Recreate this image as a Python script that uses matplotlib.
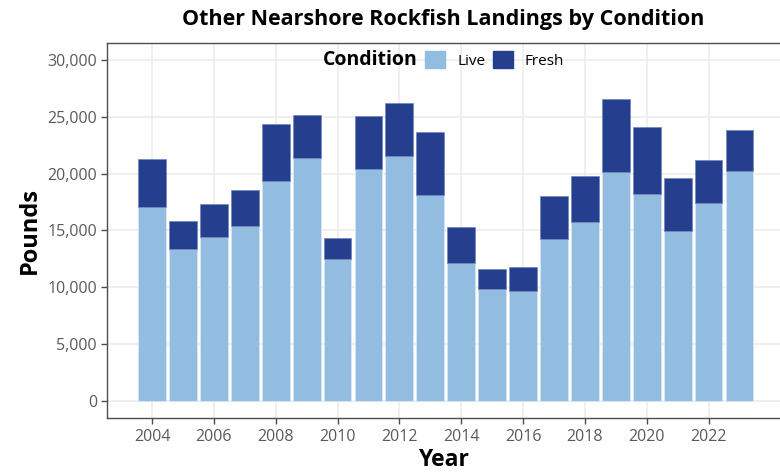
import matplotlib
matplotlib.use('Agg')
import matplotlib.pyplot as plt
from matplotlib.patches import Patch
from matplotlib.ticker import FuncFormatter

plt.rcParams['font.family'] = ['Open Sans', 'DejaVu Sans']

years = list(range(2004, 2024))
live = [17050, 13340, 14400, 15360, 19380, 21400, 12460, 20400, 21550, 18150,
        12140, 9820, 9700, 14280, 15740, 20140, 18210, 14950, 17410, 20200]
total = [21300, 15860, 17300, 18530, 24360, 25150, 14340, 25090, 26180, 23660,
         15280, 11580, 11810, 18000, 19790, 26590, 24100, 19640, 21170, 23830]
fresh = [t - l for t, l in zip(total, live)]

live_color = '#92BCE0'
fresh_color = '#253F8E'

fig = plt.figure(figsize=(7.8, 4.75), dpi=100)
ax = fig.add_axes([0.1376, 0.1193, 0.862, 0.7895])

ax.bar(years, live, width=0.9, color=live_color, edgecolor='#DCE8F4', linewidth=0.5, zorder=2)
ax.bar(years, fresh, bottom=live, width=0.9, color=fresh_color, edgecolor='#6F86BE',
       linewidth=0.5, zorder=2)

ax.set_xlim(2002.555, 2024.3)
ax.set_ylim(-1520, 31460)
ax.set_xticks(range(2004, 2024, 2))
ax.set_yticks(range(0, 30001, 5000))
ax.yaxis.set_major_formatter(FuncFormatter(lambda v, p: f'{int(v):,}'))

ax.grid(True, color='#EBEBEB', linewidth=1.1, zorder=0)
ax.set_axisbelow(True)
for s in ['left', 'bottom', 'top']:
    ax.spines[s].set_color('#4D4D4D')
    ax.spines[s].set_linewidth(1.0)
ax.spines['right'].set_visible(False)
ax.tick_params(axis='both', colors='#4D4D4D', labelcolor='#5A5A5A', labelsize=11.5,
               length=4, width=1.0)

ax.set_xlabel('Year', fontsize=16.5, fontweight='bold', labelpad=2)
ax.set_ylabel('Pounds', fontsize=17, fontweight='bold', labelpad=4)
fig.suptitle('Other Nearshore Rockfish Landings by Condition', x=0.568, y=0.982,
             fontsize=15.5, fontweight='bold')

handles = [Patch(color='none'), Patch(color=live_color), Patch(color=fresh_color)]
leg = ax.legend(handles, ['Condition', 'Live', 'Fresh'], ncol=3, loc='upper center',
                bbox_to_anchor=(0.476, 1.02), frameon=False, fontsize=11,
                handlelength=1.3, handleheight=1.3, handletextpad=0.8, columnspacing=0.5)
texts = leg.get_texts()
texts[0].set_fontweight('bold')
texts[0].set_fontsize(14)
leg.legend_handles[0].set_visible(False)

fig.savefig('out.png', dpi=100)
